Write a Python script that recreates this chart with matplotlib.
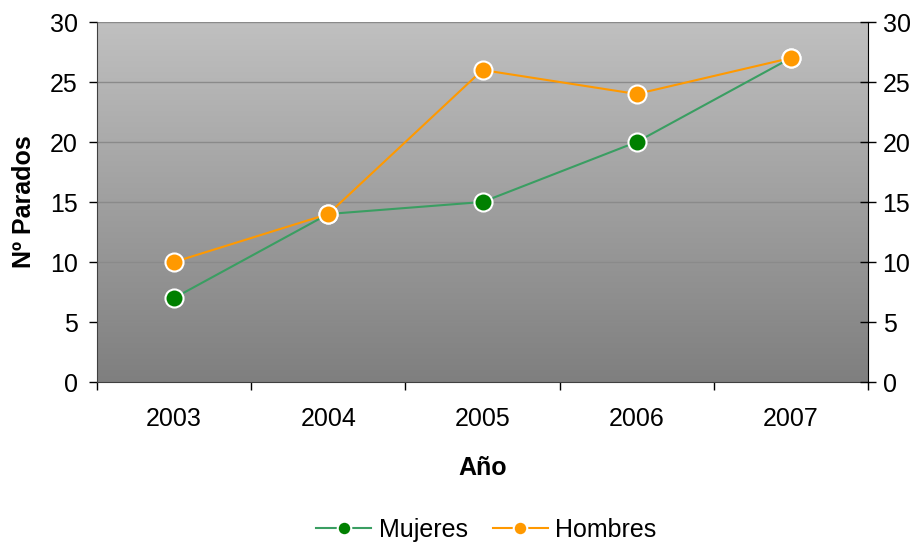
import matplotlib.pyplot as plt
import numpy as np

plt.rcParams['font.family'] = ['Liberation Sans', 'DejaVu Sans']

anios = ['2003', '2004', '2005', '2006', '2007']
mujeres = [7, 14, 15, 20, 27]
hombres = [10, 14, 26, 24, 27]

fig = plt.figure(figsize=(9.18, 5.46), dpi=100)
ax = fig.add_axes([97 / 918, 1 - 382 / 546, 771 / 918, 360 / 546])

x = np.arange(len(anios))

# fondo degradado gris
grad = np.linspace(0, 1, 256).reshape(-1, 1)
ax.imshow(grad, extent=[0, 1, 0, 1], transform=ax.transAxes, aspect='auto',
          cmap=plt.matplotlib.colors.LinearSegmentedColormap.from_list('g', ['#c0c0c0', '#7f7f7f']),
          zorder=0)

for v in range(5, 31, 5):
    ax.axhline(v, color='#8a8a8a', lw=1, zorder=1)

ax.plot(x, mujeres, color='#3a9e62', lw=1.5, marker='o', ms=13, mfc='#008000',
        mec='white', mew=1.5, label='Mujeres', zorder=3)
ax.plot(x, hombres, color='#ff9900', lw=1.5, marker='o', ms=13, mfc='#ff9900',
        mec='white', mew=1.5, label='Hombres', zorder=3)

ax.set_xlim(-0.5, len(anios) - 0.5)
ax.set_ylim(0, 30)
ax.set_yticks(range(0, 31, 5))
ax.set_xticks(np.arange(-0.5, len(anios), 1))
ax.set_xticklabels([])
ax.set_xticks(x, minor=True)
ax.set_xticklabels(anios, minor=True)
ax.tick_params(axis='x', which='major', length=6, width=1, direction='out')
ax.tick_params(axis='x', which='minor', length=0, labelsize=18, pad=18)
ax.tick_params(axis='y', length=6, width=1, labelsize=18, pad=8, direction='out')

for s in ['top', 'right']:
    ax.spines[s].set_visible(False)
ax.spines['left'].set_color('#404040')
ax.spines['bottom'].set_color('#404040')

ax2 = ax.twinx()
ax2.set_ylim(0, 30)
ax2.set_yticks(range(0, 31, 5))
ax2.tick_params(axis='y', length=11, width=1, labelsize=18, pad=5, direction='inout')
for s in ['top', 'left', 'bottom']:
    ax2.spines[s].set_visible(False)

ax.set_xlabel('Año', fontsize=18, fontweight='bold', labelpad=18)
ax.set_ylabel('Nº Parados', fontsize=18, fontweight='bold', labelpad=10)

fig.legend(loc='center', bbox_to_anchor=(0.53, 0.03), ncol=2, frameon=False,
           fontsize=18, handlelength=2.2, columnspacing=1.0, handletextpad=0.3,
           markerscale=0.75)

fig.savefig('out.png', dpi=100)
